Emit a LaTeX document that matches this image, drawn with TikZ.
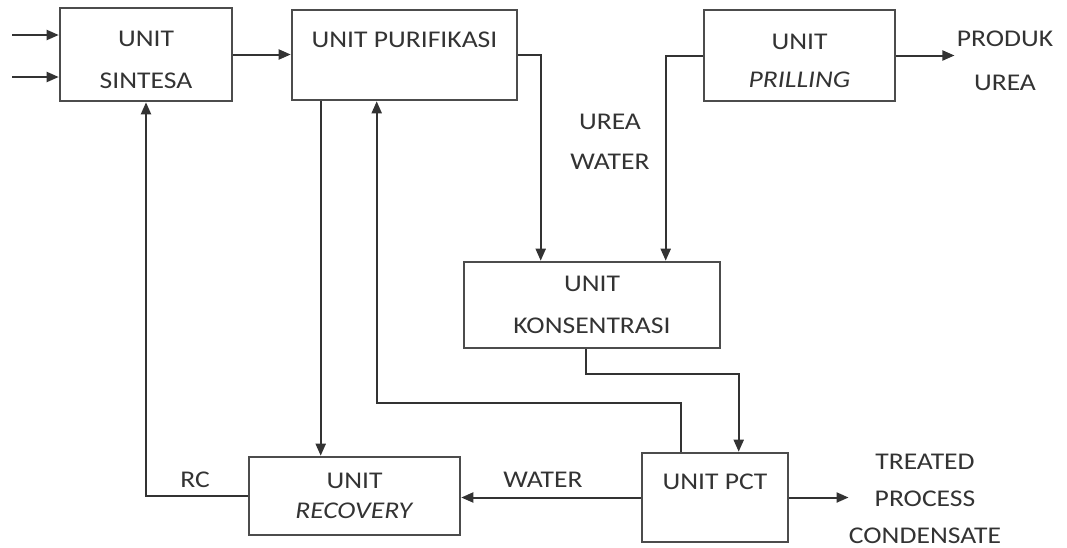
\documentclass[tikz,border=0pt]{standalone}
\usepackage{fontspec}
\setmainfont{Carlito}[FakeStretch=1.15]
\usetikzlibrary{arrows.meta}

\tikzset{
    unit/.style={draw=black!70, line width=1.3pt, align=center, inner sep=0pt, text=black!80},
    flow/.style={draw=black!80, line width=1pt, -{Triangle[length=6pt,width=5pt]}},
    tag/.style={align=center, inner sep=0pt, text=black!80}
}

\begin{document}
\begin{tikzpicture}[x=0.5pt, y=-0.5pt, font=\fontsize{12}{19}\selectfont]
    
    \useasboundingbox (0,0) rectangle (1067,547);
    
    % units
    \node[unit, minimum width=86pt, minimum height=46.5pt] (sintesa) at (146,54.5) {\rule{0pt}{13.2pt}UNIT\\[2pt]SINTESA};
    \node[unit, minimum width=112.5pt, minimum height=45pt] (purifikasi) at (404.5,55) {UNIT PURIFIKASI\rule[-15pt]{0pt}{15pt}};
    \node[unit, minimum width=95.5pt, minimum height=45.5pt] (prilling) at (799.5,55.5) {\rule{0pt}{13.2pt}UNIT\\\textit{PRILLING}};
    \node[unit, minimum width=128pt, minimum height=43pt] (konsentrasi) at (592,305) {UNIT\\[2pt]KONSENTRASI};
    \node[unit, minimum width=105.5pt, minimum height=39pt] (recovery) at (354.5,496) {UNIT\\[-4pt]\textit{RECOVERY}};
    \node[unit, minimum width=73pt, minimum height=44.5pt] (pct) at (715,497.5) {UNIT PCT\rule[-15.8pt]{0pt}{15.8pt}};
    
    % stream labels
    \node[tag] (rc) at (195,480) {RC};
    \node[tag] (water) at (543,480) {WATER};
    \node[tag] (ureawater) at (610,142) {UREA\\[1pt]WATER};
    \node[tag, inner sep=1pt] (produk) at (1005,60.5) {PRODUK\\[3pt]UREA};
    \node[tag] (treated) at (925,499) {TREATED\\[-0.5pt]PROCESS\\[-0.5pt]CONDENSATE};
    
    \coordinate (feed1) at (12,35);
    \coordinate (feed2) at (12,77);
    
    % flows
    \draw[flow] (feed1) to (feed1 -| sintesa.west);
    \draw[flow] (feed2) to (feed2 -| sintesa.west);
    \draw[flow] (sintesa.east) to (sintesa.east -| purifikasi.west);
    \draw[flow] (purifikasi.east) -| ([xshift=39pt]konsentrasi.north west);
    \draw[flow] (prilling.west) -| ([xshift=101.5pt]konsentrasi.north west);
    \draw[flow] (prilling.east) to (prilling.east -| produk.west);
    \draw[flow] ([xshift=15pt]purifikasi.south west) to ([xshift=15pt]purifikasi.south west |- recovery.north);
    \draw[flow] ([xshift=61.5pt]konsentrasi.south west) -- ++(0,25) -| ([xshift=49pt]pct.north west);
    \draw[flow] ([xshift=20pt]pct.north west) -- ++(0,-49) -| ([xshift=43pt]purifikasi.south west);
    \draw[flow] (pct.west) to (pct.west -| recovery.east);
    \draw[flow] (recovery.west) -| (sintesa.south);
    \draw[flow] (pct.east) to (pct.east -| treated.west);
    
\end{tikzpicture}
\end{document}
